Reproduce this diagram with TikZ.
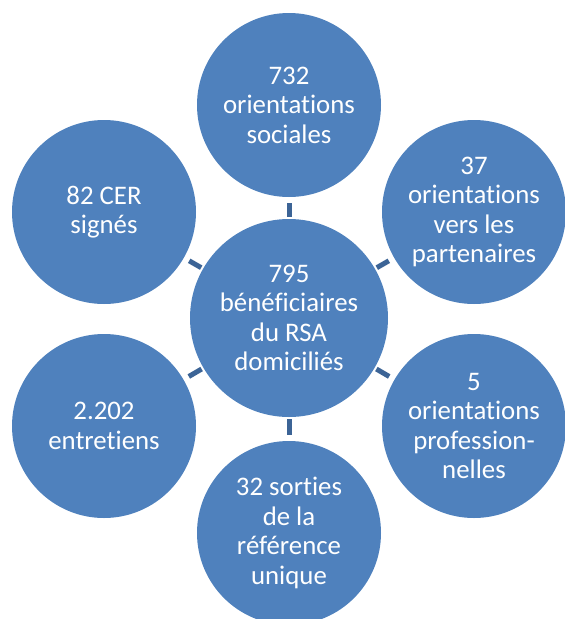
\documentclass[tikz,border=0pt]{standalone}
\usepackage{fontspec}
\setmainfont{Carlito}[Ligatures=NoCommon]
\usepackage[HTML]{xcolor}
\usepackage{tikz}
\usetikzlibrary{positioning}

\definecolor{rsablue}{HTML}{4F81BD}
\definecolor{rsalink}{HTML}{3C6496}

\begin{document}
\begin{tikzpicture}[x=1pt,y=-1pt,
  bubble/.style={circle,fill=rsablue,text=white,inner sep=0pt,minimum size=184pt,
    align=center,font=\fontsize{26.8}{29.5}\selectfont},
  hubnode/.style={bubble,minimum size=198pt},
  link/.style={draw=rsalink,line width=5pt,shorten <=2pt,shorten >=6pt}]
% page frame
\useasboundingbox (0,0) rectangle (565,619);
% centre circle
\node[hubnode] (hub) at (289,318) {795\\bénéficiaires\\du RSA\\domiciliés};
% outer circles
\node[bubble] (soc) at (289,105) {732\\orientations\\sociales};
\node[bubble] (part) at (474,212) {37\\orientations\\vers les\\partenaires};
\node[bubble] (pro) at (474,426) {5\\orientations\\profession-\\nelles};
\node[bubble] (sort) at (289,533) {32 sorties\\de la\\référence\\unique};
\node[bubble] (entr) at (104,426) {2.202\\entretiens};
\node[bubble] (cer) at (104,212) {82 CER\\signés};
% short links
\draw[link] (hub) -- (soc);
\draw[link] (hub) -- (part);
\draw[link] (hub) -- (pro);
\draw[link] (hub) -- (sort);
\draw[link] (hub) -- (entr);
\draw[link] (hub) -- (cer);
\end{tikzpicture}
\end{document}
